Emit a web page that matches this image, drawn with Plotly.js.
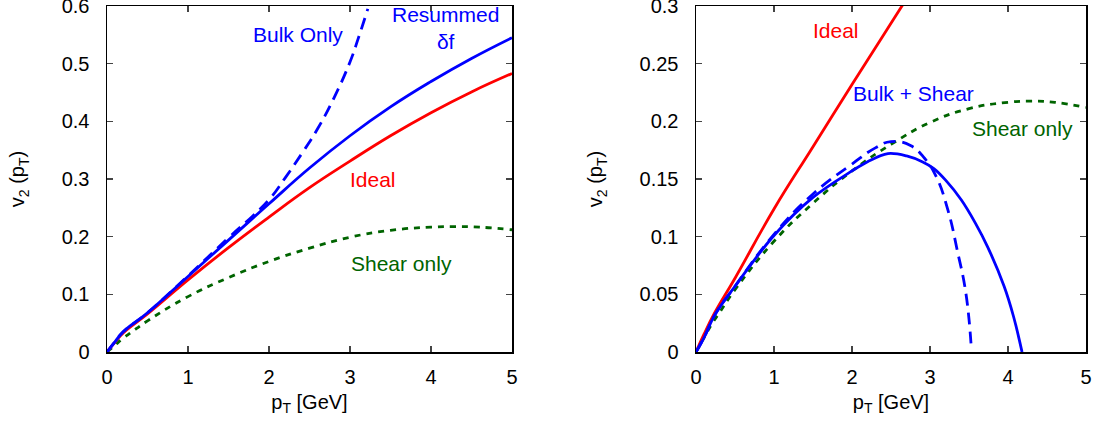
<!DOCTYPE html>
<html>
<head>
<meta charset="utf-8">
<script src="https://cdn.plot.ly/plotly-3.0.1.min.js"></script>
<style>html,body{margin:0;padding:0;background:#fff;}#chart{width:1107px;height:423px;}</style>
</head>
<body>
<div id="chart"></div>
<script>
// ---- Left panel data ----
const ptIdealL = [0, 0.1, 0.2, 0.5, 1, 1.5, 2, 2.5, 3, 3.5, 4, 4.5, 5];
const v2IdealL = [0, 0.017, 0.033, 0.066, 0.125, 0.181, 0.234, 0.285, 0.331, 0.375, 0.415, 0.451, 0.483];
const ptResumL = [0, 0.1, 0.2, 0.5, 1, 1.5, 2, 2.5, 3, 3.5, 4, 4.5, 5];
const v2ResumL = [0, 0.018, 0.035, 0.068, 0.131, 0.194, 0.257, 0.319, 0.375, 0.425, 0.469, 0.509, 0.545];
const ptBulkL = [0, 0.1, 0.2, 0.5, 1, 1.5, 1.8, 2.0, 2.2, 2.4, 2.6, 2.8, 3.0, 3.1, 3.22];
const v2BulkL = [0, 0.018, 0.035, 0.068, 0.132, 0.198, 0.236, 0.264, 0.302, 0.343, 0.387, 0.44, 0.503, 0.543, 0.595];
const ptShear = [0, 0.1, 0.2, 0.3, 0.5, 1, 1.5, 2, 2.5, 3, 3.5, 4, 4.3, 4.6, 5];
const v2Shear = [0, 0.012, 0.024, 0.034, 0.054, 0.096, 0.129, 0.157, 0.18, 0.199, 0.211, 0.2165, 0.2175, 0.2165, 0.212];

// ---- Right panel data ----
const ptIdealR = [0, 0.1, 0.24, 0.5, 1, 1.5, 2, 2.5, 2.65];
const v2IdealR = [0, 0.015, 0.034, 0.064, 0.124, 0.178, 0.232, 0.285, 0.301];
const ptBulkShearR = [0, 0.1, 0.24, 0.5, 1, 1.5, 2, 2.2, 2.46, 2.7, 2.9, 3.05, 3.2, 3.4, 3.58, 3.74, 3.95, 4.07, 4.18];
const v2BulkShearR = [0, 0.012, 0.032, 0.057, 0.101, 0.134, 0.157, 0.165, 0.172, 0.170, 0.165, 0.159, 0.149, 0.132, 0.112, 0.091, 0.057, 0.031, 0];
const ptBulkShearDashR = [0, 0.1, 0.24, 0.5, 1, 1.5, 2, 2.3, 2.5, 2.75, 2.93, 3.08, 3.23, 3.35, 3.46, 3.53];
const v2BulkShearDashR = [0, 0.012, 0.032, 0.057, 0.102, 0.137, 0.163, 0.177, 0.1825, 0.179, 0.168, 0.152, 0.123, 0.088, 0.051, 0.003];

const xTicks = [0, 1, 2, 3, 4, 5];
const xTickText = ['0', '1', '2', '3', '4', '5'];
const yTicksL = [0, 0.1, 0.2, 0.3, 0.4, 0.5, 0.6];
const yTickTextL = ['0', '0.1', '0.2', '0.3', '0.4', '0.5', '0.6'];
const yTicksR = [0, 0.05, 0.1, 0.15, 0.2, 0.25, 0.3];
const yTickTextR = ['0', '0.05', '0.1', '0.15', '0.2', '0.25', '0.3'];

const BLUE = '#0000ff', RED = '#ff0000', GREEN = '#006400';
const FONT = 'Liberation Sans, Arial, Helvetica, sans-serif';
const LW = 2.8;

function tr(x, y, color, dash, xa, ya, sm) {
  return {x: x, y: y, type: 'scatter', mode: 'lines', xaxis: xa, yaxis: ya,
    line: {color: color, width: LW, dash: dash, shape: 'spline', smoothing: sm || 1.3},
    hoverinfo: 'skip', showlegend: false};
}

const data = [
  tr(ptShear, v2Shear, GREEN, '6px,6px', 'x', 'y'),
  tr(ptIdealL, v2IdealL, RED, 'solid', 'x', 'y'),
  tr(ptBulkL, v2BulkL, BLUE, '12px,7px', 'x', 'y'),
  tr(ptResumL, v2ResumL, BLUE, 'solid', 'x', 'y'),
  tr(ptShear, v2Shear, GREEN, '6px,6px', 'x2', 'y2'),
  tr(ptIdealR, v2IdealR, RED, 'solid', 'x2', 'y2'),
  tr(ptBulkShearDashR, v2BulkShearDashR, BLUE, '12px,7px', 'x2', 'y2'),
  tr(ptBulkShearR, v2BulkShearR, BLUE, 'solid', 'x2', 'y2', 1.0)
];

function axisBase(extra) {
  return Object.assign({
    showline: true, linecolor: '#000', linewidth: 1.5, mirror: 'ticks',
    ticks: 'inside', ticklen: 6, tickwidth: 1.3, tickcolor: '#444',
    showgrid: false, zeroline: false, automargin: false, fixedrange: true,
    tickfont: {family: FONT, size: 20, color: '#000'},
    ticklabelstandoff: 6, ticklabeloverflow: 'allow'
  }, extra);
}

const xTitle = {text: 'p<sub>T</sub> [GeV]', font: {family: FONT, size: 20, color: '#000'}, standoff: 8};
const yTitle = {text: 'v<sub>2</sub> (p<sub>T</sub>)', font: {family: FONT, size: 20, color: '#000'}, standoff: 31};

const H = 423, W = 1107;
const yDom = [(H - 352) / H, (H - 6) / H];

const layout = {
  width: W, height: H,
  margin: {l: 0, r: 0, t: 0, b: 0},
  paper_bgcolor: '#fff', plot_bgcolor: '#fff',
  font: {family: FONT, size: 20, color: '#000'},
  xaxis: axisBase({domain: [107 / W, 512 / W], range: [0, 5], tickvals: xTicks, ticktext: xTickText, title: xTitle, anchor: 'y'}),
  yaxis: axisBase({domain: yDom, range: [0, 0.6], tickvals: yTicksL, ticktext: yTickTextL, title: yTitle, anchor: 'x', ticklabelstandoff: 12}),
  xaxis2: axisBase({domain: [696 / W, 1086 / W], range: [0, 5], tickvals: xTicks, ticktext: xTickText, title: xTitle, anchor: 'y2'}),
  yaxis2: axisBase({domain: yDom, range: [0, 0.3], tickvals: yTicksR, ticktext: yTickTextR, title: yTitle, anchor: 'x2', ticklabelstandoff: 12}),
  annotations: [
    {xref: 'x', yref: 'y', x: 2.36, y: 0.55, text: 'Bulk Only', showarrow: false, font: {family: FONT, size: 21, color: BLUE}},
    {xref: 'x', yref: 'y', x: 4.18, y: 0.562, text: 'Resummed<br>δf', showarrow: false, align: 'center', font: {family: FONT, size: 21, color: BLUE}},
    {xref: 'x', yref: 'y', x: 3.29, y: 0.299, text: 'Ideal', showarrow: false, font: {family: FONT, size: 21, color: RED}},
    {xref: 'x', yref: 'y', x: 3.63, y: 0.154, text: 'Shear only', showarrow: false, font: {family: FONT, size: 21, color: GREEN}},
    {xref: 'x2', yref: 'y2', x: 1.795, y: 0.279, text: 'Ideal', showarrow: false, font: {family: FONT, size: 21, color: RED}},
    {xref: 'x2', yref: 'y2', x: 2.79, y: 0.2245, text: 'Bulk + Shear', showarrow: false, font: {family: FONT, size: 21, color: BLUE}},
    {xref: 'x2', yref: 'y2', x: 4.19, y: 0.194, text: 'Shear only', showarrow: false, font: {family: FONT, size: 21, color: GREEN}}
  ]
};

Plotly.newPlot('chart', data, layout, {staticPlot: true, displayModeBar: false});
</script>
</body>
</html>
